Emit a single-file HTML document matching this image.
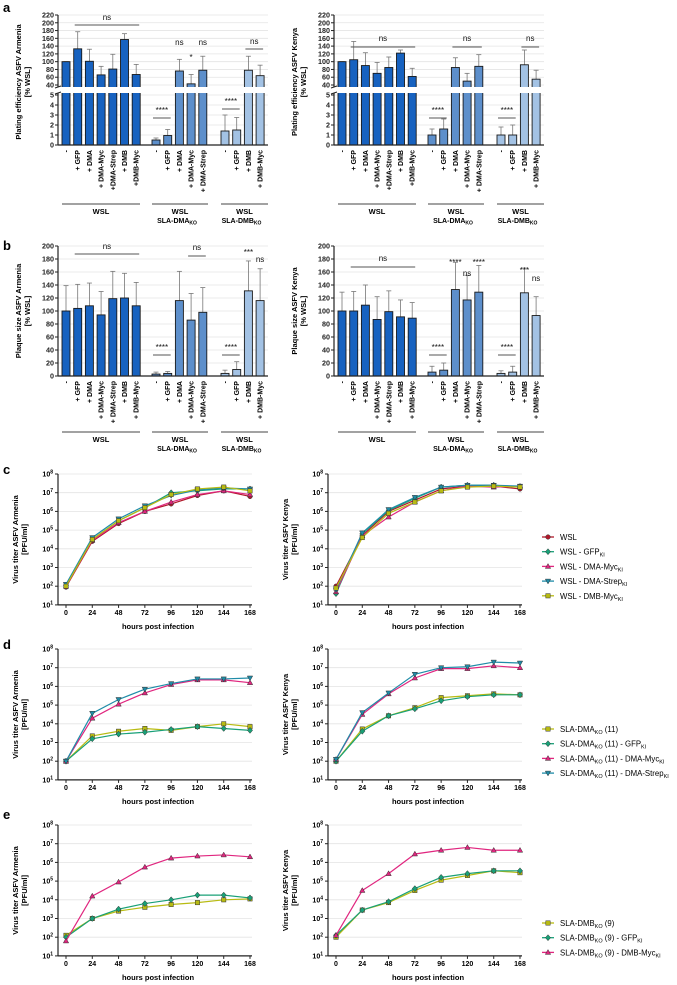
<!DOCTYPE html>
<html><head><meta charset="utf-8">
<style>
html,body{margin:0;padding:0;background:#fff;}
svg{display:block;font-family:"Liberation Sans",Arial,sans-serif;}
</style></head>
<body>
<svg id="fig" width="677" height="985" viewBox="0 0 677 985" xmlns="http://www.w3.org/2000/svg"></svg>
<script>
// ---------- DATA ----------
const barCats1 = ['-','+ GFP','+ DMA','+ DMA-Myc','+DMA-Strep','+ DMB','+DMB-Myc'];
const barCats1b = ['-','+ GFP','+ DMA','+ DMA-Myc','+ DMA-Strep','+ DMB','+ DMB-Myc'];
const barCats2 = ['-','+ GFP','+ DMA','+ DMA-Myc','+ DMA-Strep'];
const barCats3 = ['-','+ GFP','+ DMB','+ DMB-Myc'];

const peArmVals = [[100,133,101,66,81,157,67],[0.5,0.95,76,43,78],[1.4,1.5,78,64]];
const peArmErr  = [[100,177,132,88,119,172,93],[0.7,1.55,106,67,114],[3.0,2.75,114,91]];
const peKenVals = [[100,105,90,70,85,122,62],[1.0,1.6,85,50,88],[1.0,1.0,92,55]];
const peKenErr  = [[100,152,123,98,112,130,83],[1.6,2.6,110,70,118],[1.8,2.0,130,78]];
const psArmVals = [[100,104,108,94,119,120,108],[3,4,116,86,98],[4,10,131,116]];
const psArmErr  = [[139,141,143,130,161,158,144],[6,7,161,127,136],[9,22,177,165]];
const psKenVals = [[100,100,109,87,99,91,89],[6,9,133,117,129],[4,6,128,93]];
const psKenErr  = [[129,130,140,122,131,117,113],[15,20,175,155,170],[8,15,166,122]];

const hours = [0,24,48,72,96,120,144,168];
const yTickExp = [1,2,3,4,5,6,7,8];
// log10 titers
const cArm_WSL   = [1.95,4.4,5.35,6.0,6.4,6.85,7.1,6.8];
const cArm_GFP   = [2.05,4.5,5.5,6.2,7.0,7.1,7.2,7.2];
const cArm_DMAM  = [2.0,4.45,5.4,6.0,6.5,6.9,7.1,6.9];
const cArm_DMAS  = [2.1,4.6,5.6,6.3,6.85,7.15,7.25,7.2];
const cArm_DMBM  = [2.0,4.5,5.5,6.2,6.9,7.2,7.3,7.1];
const cKen_WSL   = [2.0,4.7,6.0,6.6,7.2,7.35,7.35,7.2];
const cKen_GFP   = [1.6,4.8,6.05,6.7,7.3,7.4,7.4,7.3];
const cKen_DMAM  = [1.7,4.7,5.7,6.5,7.1,7.35,7.3,7.35];
const cKen_DMAS  = [1.8,4.85,6.1,6.75,7.3,7.4,7.4,7.35];
const cKen_DMBM  = [1.9,4.6,5.9,6.5,7.1,7.3,7.35,7.3];
const dArm_KO    = [2.0,3.35,3.6,3.75,3.65,3.85,4.0,3.85];
const dArm_GFP   = [2.0,3.2,3.45,3.55,3.7,3.85,3.75,3.65];
const dArm_DMAM  = [2.0,4.3,5.05,5.65,6.1,6.35,6.35,6.2];
const dArm_DMAS  = [2.0,4.56,5.3,5.85,6.15,6.4,6.4,6.45];
const dKen_KO    = [2.0,3.72,4.43,4.86,5.4,5.5,5.6,5.55];
const dKen_GFP   = [2.0,3.6,4.43,4.8,5.23,5.45,5.55,5.55];
const dKen_DMAM  = [2.1,4.5,5.6,6.45,6.95,6.95,7.1,7.0];
const dKen_DMAS  = [2.1,4.6,5.65,6.65,7.0,7.05,7.3,7.25];
const eArm_KO    = [2.1,3.0,3.4,3.6,3.75,3.85,4.0,4.05];
const eArm_GFP   = [2.0,3.0,3.5,3.8,4.0,4.25,4.25,4.1];
const eArm_DMBM  = [1.8,4.2,4.95,5.75,6.23,6.34,6.4,6.3];
const eKen_KO    = [2.0,3.45,3.85,4.5,5.05,5.3,5.55,5.45];
const eKen_GFP   = [2.1,3.45,3.9,4.6,5.2,5.4,5.55,5.55];
const eKen_DMBM  = [2.1,4.5,5.4,6.45,6.65,6.8,6.65,6.65];

// ---------- HELPERS ----------
const NS='http://www.w3.org/2000/svg';
const svg=document.getElementById('fig');
function el(tag,attrs,parent){const e=document.createElementNS(NS,tag);for(const k in attrs)e.setAttribute(k,attrs[k]);(parent||svg).appendChild(e);return e;}
function txt(x,y,s,size,attrs,parent){const t=el('text',Object.assign({x:x,y:y,'font-size':size},attrs||{}),parent);t.textContent=s;return t;}
const GRID='#e4e4e4', AX='#222';
const groupColors=['#1762c0','#5d8fcb','#a3c2e4'];

function panelLabel(x,y,s){const t=txt(x,y,s,13,{'font-weight':'bold'});

}

function yTitle(x,cy,l1,l2,g){
 const a=txt(x,cy,l1,7.5,{'font-weight':'bold','text-anchor':'middle',transform:`rotate(-90 ${x} ${cy})`},g);
 
 
 const b=txt(x+9,cy,l2,7.5,{'font-weight':'bold','text-anchor':'middle',transform:`rotate(-90 ${x+9} ${cy})`},g);
 
 
}

// bar chart
function barChart(opt){
 const g=el('g',{});
 
 
 const dx=opt.dx, ax=58+dx, right=268+dx;
 const starts=[66,156,225], step=11.7, bw=8;
 const yf=opt.yf;
 opt.ticks.forEach(t=>{const y=yf(t);
  el('line',{x1:ax,x2:right,y1:y,y2:y,stroke:GRID,'stroke-width':0.8},g);
  el('line',{x1:ax-3,x2:ax,y1:y,y2:y,stroke:AX,'stroke-width':1},g);
  txt(ax-4,y+2.5,String(t),7.2,{'text-anchor':'end','font-weight':'bold',fill:'#222'},g);
 });
 const cats=[opt.cats1,barCats2,barCats3];
 const vals=opt.vals, errs=opt.errs;
 vals.forEach((arr,gi)=>{arr.forEach((v,i)=>{
  const cx=starts[gi]+i*step+dx;
  const y=yf(v), y0=opt.base, ye=yf(errs[gi][i]);
  el('line',{x1:cx,x2:cx,y1:y,y2:ye,stroke:'#777','stroke-width':0.8},g);
  el('line',{x1:cx-2.5,x2:cx+2.5,y1:ye,y2:ye,stroke:'#777','stroke-width':0.8},g);
  const r=el('rect',{x:cx-bw/2,y:y,width:bw,height:Math.max(0.5,y0-y),fill:groupColors[gi],stroke:'#1a1a1a','stroke-width':0.9},g);
  
  
  const lab=txt(cx+2.5,opt.base+5,cats[gi][i],7,{'text-anchor':'end','font-weight':'bold',transform:`rotate(-90 ${cx+2.5} ${opt.base+5})`},g);
  
  
 });});
 if(opt.brk){el('rect',{x:ax-4,y:opt.brk[0],width:right-ax+6,height:opt.brk[1]-opt.brk[0],fill:'#fff'},g);
  el('line',{x1:ax-3,x2:ax+3,y1:opt.brk[0]+1,y2:opt.brk[0]-1,stroke:AX},g);
  el('line',{x1:ax-3,x2:ax+3,y1:opt.brk[1]+1,y2:opt.brk[1]-1,stroke:AX},g);
  el('line',{x1:ax,x2:ax,y1:opt.top,y2:opt.brk[0],stroke:AX,'stroke-width':1.2},g);
  el('line',{x1:ax,x2:ax,y1:opt.brk[1],y2:opt.base,stroke:AX,'stroke-width':1.2},g);
 } else el('line',{x1:ax,x2:ax,y1:opt.top,y2:opt.base,stroke:AX,'stroke-width':1.2},g);
 el('line',{x1:ax,x2:right,y1:opt.base,y2:opt.base,stroke:AX,'stroke-width':1.2},g);
 const gl=[[62,140,'WSL',null],[152,208,'WSL','SLA-DMA'],[221,268,'WSL','SLA-DMB']];
 gl.forEach(a=>{el('line',{x1:a[0]+dx,x2:a[1]+dx,y1:opt.gy,y2:opt.gy,stroke:'#444','stroke-width':1},g);
  const cx=(a[0]+a[1])/2+dx;
  const t=txt(cx,opt.gy+10,a[2],7.5,{'text-anchor':'middle','font-weight':'bold'},g);
  
  
  if(a[3]){const t2=txt(cx-3,opt.gy+19,a[3],7,{'text-anchor':'middle','font-weight':'bold'},g);
   const s=el('tspan',{'font-size':5,dy:1.5},t2);s.textContent='KO';
   
   }
 });
 opt.ann.forEach(a=>{const x1=starts[a[0]]+a[1]*step+dx, x2=starts[a[0]]+a[2]*step+dx;
  if(a[3]!=null) el('line',{x1:x1-3,x2:x2+3,y1:a[3],y2:a[3],stroke:'#555','stroke-width':0.9},g);
  const t=txt((x1+x2)/2,a[4],a[5],8,{'text-anchor':'middle',fill:'#111'},g);
  
  
 });
 yTitle(opt.tx,opt.tcy,opt.t1,opt.t2,g);
}
const yBreak=v=> v<=5 ? 145-v*10 : (v>=40 ? 85-(v-40)/180*70 : 90);
const yPS=v=> 376-v*0.65;
const breakTicks=[0,1,2,3,4,5,40,60,80,100,120,140,160,180,200,220];
const psTicks=[0,20,40,60,80,100,120,140,160,180,200];

// ---------- LINE CHART ----------
const markers={
 circle:(g,x,y,c)=>el('circle',{cx:x,cy:y,r:2.3,fill:c,stroke:'#333','stroke-width':0.5},g),
 diamond:(g,x,y,c)=>el('polygon',{points:`${x},${y-3} ${x+2.6},${y} ${x},${y+3} ${x-2.6},${y}`,fill:c,stroke:'#333','stroke-width':0.5},g),
 tri:(g,x,y,c)=>el('polygon',{points:`${x},${y-2.8} ${x+2.7},${y+2} ${x-2.7},${y+2}`,fill:c,stroke:'#333','stroke-width':0.5},g),
 tridown:(g,x,y,c)=>el('polygon',{points:`${x},${y+2.8} ${x+2.7},${y-2} ${x-2.7},${y-2}`,fill:c,stroke:'#333','stroke-width':0.5},g),
 square:(g,x,y,c)=>el('rect',{x:x-2.2,y:y-2.2,width:4.4,height:4.4,fill:c,stroke:'#333','stroke-width':0.5},g)
};
const C={wsl:'#b0182a',gfp:'#19a077',myc:'#e0267f',strep:'#1f8ca8',dmb:'#b8bb12'};

function lineChart(opt){
 const g=el('g',{});
 
 
 const ax=opt.ax, top=opt.top, dec=18.7, bottom=top+7*dec;
 const xf=h=>ax+8+h/168*184;
 const yf=l=>top+(8-l)*dec;
 yTickExp.forEach(e=>{const y=yf(e);
  el('line',{x1:ax,x2:ax+194,y1:y,y2:y,stroke:GRID,'stroke-width':0.8},g);
  el('line',{x1:ax-3,x2:ax,y1:y,y2:y,stroke:AX},g);
  const t=txt(ax-5,y+2.5,'10',7,{'text-anchor':'end','font-weight':'bold'},g);
  const s=el('tspan',{'font-size':5,dy:-3},t);s.textContent=String(e);
 });
 el('line',{x1:ax,x2:ax,y1:top,y2:bottom,stroke:AX,'stroke-width':1.2},g);
 el('line',{x1:ax,x2:ax+194,y1:bottom,y2:bottom,stroke:AX,'stroke-width':1.2},g);
 hours.forEach(h=>{const x=xf(h);
  el('line',{x1:x,x2:x,y1:bottom,y2:bottom+3,stroke:AX},g);
  txt(x,bottom+10,String(h),7,{'text-anchor':'middle','font-weight':'bold'},g);
 });
 const xt=txt(ax+100,bottom+24,'hours post infection',7.5,{'text-anchor':'middle','font-weight':'bold'},g);
 
 
 opt.series.forEach(s=>{
  const pts=s.data.map((v,i)=>xf(hours[i])+','+yf(v)).join(' ');
  const p=el('polyline',{points:pts,fill:'none',stroke:s.color,'stroke-width':1.2},g);
  
  
  s.data.forEach((v,i)=>markers[s.mk](g,xf(hours[i]),yf(v),s.color));
 });
 yTitle(ax-40,(top+bottom)/2,opt.t1,'[PFU/ml]',g);
}
function legend(x,y0,items){
 const g=el('g',{});
 
 
 items.forEach((it,i)=>{const y=y0+i*14.7;
  const e=el('g',{},g);
  
  
  el('line',{x1:x-6,x2:x+6,y1:y,y2:y,stroke:it.color,'stroke-width':1.3},e);
  markers[it.mk](e,x,y,it.color);
  const t=txt(x+12,y+3,it.label,7.8,{},e);
  if(it.sub){const s=el('tspan',{'font-size':5.5,dy:2},t);s.textContent=it.sub;
   if(it.rest){const r=el('tspan',{'font-size':7.8,dy:-2},t);r.textContent=it.rest;
    if(it.sub2){const s2=el('tspan',{'font-size':5.5,dy:2},t);s2.textContent=it.sub2;}}}
 });
}

// ---------- BUILD ----------
panelLabel(3,12,'a');
barChart({name:'plating-efficiency-armenia',dx:0,yf:yBreak,ticks:breakTicks,cats1:barCats1,vals:peArmVals,errs:peArmErr,base:145,top:15,brk:[87,93],gy:204,
 ann:[[0,1,6,25,20,'ns'],[1,2,2,null,45,'ns'],[1,3,3,null,60,'*'],[1,4,4,null,45,'ns'],[2,2,3,49,44,'ns'],[1,0,1,118,113,'****'],[2,0,1,109,104,'****']],
 tx:21,tcy:82,t1:'Plating efficiency ASFV Armenia',t2:'[% WSL]'});
barChart({name:'plating-efficiency-kenya',dx:276,yf:yBreak,ticks:breakTicks,cats1:barCats1,vals:peKenVals,errs:peKenErr,base:145,top:15,brk:[87,93],gy:204,
 ann:[[0,1,6,47,41,'ns'],[1,2,4,47,41,'ns'],[2,2,3,47,41,'ns'],[1,0,1,118,113,'****'],[2,0,1,118,113,'****']],
 tx:297,tcy:82,t1:'Plating efficiency ASFV Kenya',t2:'[% WSL]'});
panelLabel(3,250,'b');
barChart({name:'plaque-size-armenia',dx:0,yf:yPS,ticks:psTicks,cats1:barCats1b,vals:psArmVals,errs:psArmErr,base:376,top:246,gy:432,
 ann:[[0,1,6,254,249,'ns'],[1,3,4,256,250,'ns'],[2,2,2,null,255,'***'],[2,3,3,null,262,'ns'],[1,0,1,355,350,'****'],[2,0,1,355,350,'****']],
 tx:21,tcy:311,t1:'Plaque size ASFV Armenia',t2:'[% WSL]'});
barChart({name:'plaque-size-kenya',dx:276,yf:yPS,ticks:psTicks,cats1:barCats1b,vals:psKenVals,errs:psKenErr,base:376,top:246,gy:432,
 ann:[[0,1,6,267,261,'ns'],[1,2,2,null,265,'****'],[1,3,3,null,276,'ns'],[1,4,4,null,265,'****'],[2,2,2,null,273,'***'],[2,3,3,null,281,'ns'],[1,0,1,355,350,'****'],[2,0,1,355,350,'****']],
 tx:297,tcy:311,t1:'Plaque size ASFV Kenya',t2:'[% WSL]'});

panelLabel(3,474,'c');
lineChart({name:'titer-c-armenia',ax:58,top:474,t1:'Virus titer ASFV Armenia',series:[
 {key:'wsl',data:cArm_WSL,color:C.wsl,mk:'circle'},{key:'gfp',data:cArm_GFP,color:C.gfp,mk:'diamond'},
 {key:'dma-myc',data:cArm_DMAM,color:C.myc,mk:'tri'},{key:'dma-strep',data:cArm_DMAS,color:C.strep,mk:'tridown'},
 {key:'dmb-myc',data:cArm_DMBM,color:C.dmb,mk:'square'}]});
lineChart({name:'titer-c-kenya',ax:328,top:474,t1:'Virus titer ASFV Kenya',series:[
 {key:'wsl',data:cKen_WSL,color:C.wsl,mk:'circle'},{key:'gfp',data:cKen_GFP,color:C.gfp,mk:'diamond'},
 {key:'dma-myc',data:cKen_DMAM,color:C.myc,mk:'tri'},{key:'dma-strep',data:cKen_DMAS,color:C.strep,mk:'tridown'},
 {key:'dmb-myc',data:cKen_DMBM,color:C.dmb,mk:'square'}]});
legend(548,537,[{label:'WSL',color:C.wsl,mk:'circle'},{label:'WSL - GFP',sub:'KI',color:C.gfp,mk:'diamond'},
 {label:'WSL - DMA-Myc',sub:'KI',color:C.myc,mk:'tri'},{label:'WSL - DMA-Strep',sub:'KI',color:C.strep,mk:'tridown'},
 {label:'WSL - DMB-Myc',sub:'KI',color:C.dmb,mk:'square'}]);

panelLabel(3,649,'d');
lineChart({name:'titer-d-armenia',ax:58,top:649,t1:'Virus titer ASFV Armenia',series:[
 {key:'ko',data:dArm_KO,color:C.dmb,mk:'square'},{key:'gfp',data:dArm_GFP,color:C.gfp,mk:'diamond'},
 {key:'dma-myc',data:dArm_DMAM,color:C.myc,mk:'tri'},{key:'dma-strep',data:dArm_DMAS,color:C.strep,mk:'tridown'}]});
lineChart({name:'titer-d-kenya',ax:328,top:649,t1:'Virus titer ASFV Kenya',series:[
 {key:'ko',data:dKen_KO,color:C.dmb,mk:'square'},{key:'gfp',data:dKen_GFP,color:C.gfp,mk:'diamond'},
 {key:'dma-myc',data:dKen_DMAM,color:C.myc,mk:'tri'},{key:'dma-strep',data:dKen_DMAS,color:C.strep,mk:'tridown'}]});
legend(548,729,[{label:'SLA-DMA',sub:'KO',rest:' (11)',color:C.dmb,mk:'square'},
 {label:'SLA-DMA',sub:'KO',rest:' (11) - GFP',sub2:'KI',color:C.gfp,mk:'diamond'},
 {label:'SLA-DMA',sub:'KO',rest:' (11) - DMA-Myc',sub2:'KI',color:C.myc,mk:'tri'},
 {label:'SLA-DMA',sub:'KO',rest:' (11) - DMA-Strep',sub2:'KI',color:C.strep,mk:'tridown'}]);

panelLabel(3,819,'e');
lineChart({name:'titer-e-armenia',ax:58,top:825,t1:'Virus titer ASFV Armenia',series:[
 {key:'ko',data:eArm_KO,color:C.dmb,mk:'square'},{key:'gfp',data:eArm_GFP,color:C.gfp,mk:'diamond'},
 {key:'dmb-myc',data:eArm_DMBM,color:C.myc,mk:'tri'}]});
lineChart({name:'titer-e-kenya',ax:328,top:825,t1:'Virus titer ASFV Kenya',series:[
 {key:'ko',data:eKen_KO,color:C.dmb,mk:'square'},{key:'gfp',data:eKen_GFP,color:C.gfp,mk:'diamond'},
 {key:'dmb-myc',data:eKen_DMBM,color:C.myc,mk:'tri'}]});
legend(548,923,[{label:'SLA-DMB',sub:'KO',rest:' (9)',color:C.dmb,mk:'square'},
 {label:'SLA-DMB',sub:'KO',rest:' (9) - GFP',sub2:'KI',color:C.gfp,mk:'diamond'},
 {label:'SLA-DMB',sub:'KO',rest:' (9) - DMB-Myc',sub2:'KI',color:C.myc,mk:'tri'}]);
</script>
</body></html>
